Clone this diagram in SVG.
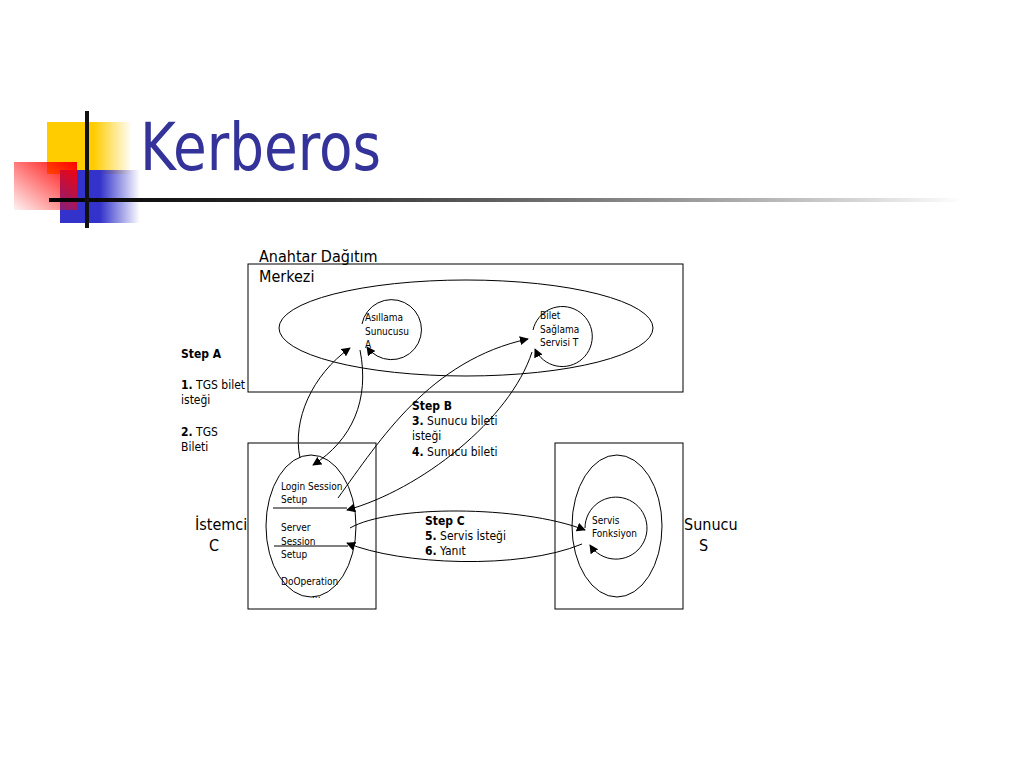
<svg xmlns="http://www.w3.org/2000/svg" width="1024" height="768" viewBox="0 0 1024 768">
<defs>
<style>
text{font-family:"DejaVu Sans Condensed","DejaVu Sans",Verdana,sans-serif;fill:#000}
.t16{font-size:16px}
.t12{font-size:12px}
.t10{font-size:10px}
.b{font-weight:bold}
.ln{fill:none;stroke:#000;stroke-width:1}
.box{fill:#fff;stroke:#000;stroke-width:1}
.arr{fill:none;stroke:#000;stroke-width:1;marker-end:url(#ah)}
</style>
<marker id="ah" viewBox="0 0 10 10" refX="9" refY="5" markerWidth="9" markerHeight="9" markerUnits="userSpaceOnUse" orient="auto">
<path d="M0,0 L10,5 L0,10 z" fill="#000"/>
</marker>
<linearGradient id="gy" x1="0" y1="0" x2="1" y2="0">
<stop offset="0" stop-color="#FFCC00"/><stop offset="0.55" stop-color="#FFCC00"/><stop offset="1" stop-color="#FFCC00" stop-opacity="0"/>
</linearGradient>
<linearGradient id="gr" x1="1" y1="0" x2="0" y2="1">
<stop offset="0" stop-color="#FF0000"/><stop offset="1" stop-color="#FF0000" stop-opacity="0.05"/>
</linearGradient>
<linearGradient id="gb" x1="0" y1="0" x2="1" y2="0">
<stop offset="0" stop-color="#3333CC"/><stop offset="0.5" stop-color="#3333CC"/><stop offset="1" stop-color="#3333CC" stop-opacity="0"/>
</linearGradient>
<linearGradient id="gl" x1="0" y1="0" x2="1" y2="0">
<stop offset="0" stop-color="#000"/><stop offset="0.3" stop-color="#333"/><stop offset="1" stop-color="#000" stop-opacity="0"/>
</linearGradient>
</defs>
<rect width="1024" height="768" fill="#fff"/>
<g id="decoration">
<rect x="47" y="122" width="85" height="52" fill="url(#gy)"/>
<rect x="60" y="170" width="80" height="53" fill="url(#gb)"/>
<rect x="14" y="162" width="63" height="48" fill="url(#gr)"/>
<rect x="49" y="198" width="915" height="4" fill="url(#gl)"/>
<rect x="85" y="111" width="4" height="117" fill="#111"/>
</g>
<text id="title" x="140" y="170" style="font-size:66px;fill:#333399" textLength="241" lengthAdjust="spacingAndGlyphs">Kerberos</text>

<g id="kdc">
<rect class="box" x="248" y="264" width="435" height="128"/>
<text class="t16" x="259" y="262">Anahtar Dağıtım</text>
<text class="t16" x="259" y="282">Merkezi</text>
<ellipse class="ln" cx="466" cy="328" rx="187" ry="48"/>
</g>
<g id="as">
<path class="arr" d="M362,324 A30,30 0 1 1 367,347"/>
<text class="t10" x="365" y="321">Asıllama</text>
<text class="t10" x="365" y="335">Sunucusu</text>
<text class="t10" x="365" y="348">A</text>
</g>
<g id="tgs">
<path class="arr" d="M533,330 A30,30 0 1 1 535,349"/>
<text class="t10" x="540" y="319">Bilet</text>
<text class="t10" x="540" y="333">Sağlama</text>
<text class="t10" x="540" y="346">Servisi T</text>
</g>
<g id="client">
<rect class="box" x="248" y="443" width="128" height="166"/>
<ellipse class="ln" cx="311" cy="526" rx="45" ry="71"/>
<text class="t10" x="281" y="490">Login Session</text>
<text class="t10" x="281" y="503">Setup</text>
<line class="ln" x1="273" y1="508" x2="347" y2="508"/>
<text class="t10" x="281" y="531">Server</text>
<text class="t10" x="281" y="545">Session</text>
<text class="t10" x="281" y="558">Setup</text>
<line class="ln" x1="274" y1="546" x2="348" y2="546"/>
<text class="t10" x="281" y="585">DoOperation</text>
<text class="t10" x="312" y="598">...</text>
<text class="t16" x="195" y="530">İstemci</text>
<text class="t16" x="209" y="551">C</text>
</g>
<g id="server">
<rect class="box" x="555" y="443" width="128" height="166"/>
<ellipse class="ln" cx="617" cy="526" rx="45" ry="71"/>
<path class="arr" d="M585,528 A31,31 0 1 1 590,545"/>
<text class="t10" x="592" y="524">Servis</text>
<text class="t10" x="592" y="537">Fonksiyon</text>
<text class="t16" x="684" y="530">Sunucu</text>
<text class="t16" x="699" y="551">S</text>
</g>
<g id="labels">
<text class="t12 b" x="181" y="358">Step A</text>
<text class="t12" x="181" y="389"><tspan class="b">1.</tspan> TGS bilet</text>
<text class="t12" x="181" y="404">isteği</text>
<text class="t12" x="181" y="436"><tspan class="b">2.</tspan> TGS</text>
<text class="t12" x="181" y="451">Bileti</text>
<text class="t12 b" x="412" y="410">Step B</text>
<text class="t12" x="412" y="425"><tspan class="b">3.</tspan> Sunucu bileti</text>
<text class="t12" x="412" y="440">isteği</text>
<text class="t12" x="412" y="456"><tspan class="b">4.</tspan> Sunucu bileti</text>
<text class="t12 b" x="425" y="525">Step C</text>
<text class="t12" x="425" y="540"><tspan class="b">5.</tspan> Servis İsteği</text>
<text class="t12" x="425" y="555"><tspan class="b">6.</tspan> Yanıt</text>
</g>
<g id="connectors">
<path class="arr" d="M300,458 C292,420 312,375 350,348"/>
<path class="arr" d="M360,350 C370,400 352,440 313,465"/>
<path class="arr" d="M338,498 C380,440 430,360 528,339"/>
<path class="arr" d="M532,352 C510,420 420,490 347,510"/>
<path class="arr" d="M350,528 C390,505 520,505 585,530"/>
<path class="arr" d="M582,544 C520,570 400,565 347,543"/>
</g>
</svg>
